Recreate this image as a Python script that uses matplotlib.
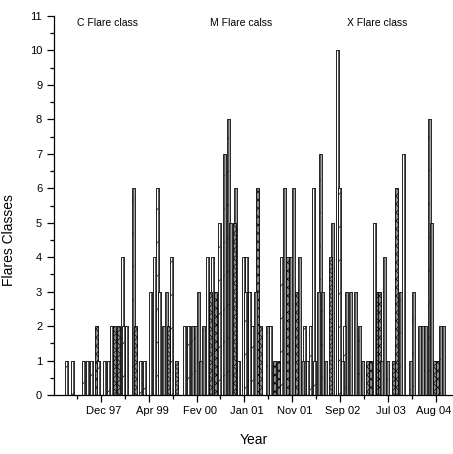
import matplotlib
matplotlib.use("Agg")
import matplotlib.pyplot as plt
from matplotlib.ticker import MultipleLocator, FixedLocator
from matplotlib.transforms import ScaledTranslation

plt.rcParams['font.family'] = ['Liberation Sans', 'DejaVu Sans']
plt.rcParams['hatch.linewidth'] = 0.5

# Event index (position along the x axis) and flare counts
hatched_pos = [3.3, 5.15, 8.5, 10.9, 13.0, 16.1, 20.6, 23.6, 25.8, 27.0, 30.9, 35.2,
               40.3, 41.5, 42.4, 44.8, 49.7, 51.2, 52.4, 57.6, 59.7, 64.2, 68.5,
               75.5, 77.3, 78.5, 80.3, 80.9, 86.1, 87.6, 92.1, 100.6, 104.5,
               107.6, 108.5, 113.3, 116.7]
hatched_val = [1, 1, 1, 1, 1, 1, 2, 6, 1, 1, 6, 4,
               2, 2, 2, 2, 5, 7, 8, 3, 2, 2, 4,
               2, 2, 1, 7, 3, 6, 2, 2, 1, 3,
               1, 3, 8, 2]

plain_pos = [9.7, 14.85, 17.0, 20.3, 21.5, 28.8, 30.0, 31.5, 32.7, 33.6, 39.1, 43.3,
             43.9, 46.1, 47.6, 53.0, 54.5, 55.5, 57.0, 57.9, 58.8, 60.6, 65.2,
             69.4, 71.2, 72.1, 73.9, 74.8, 76.4, 78.2, 79.7, 81.8, 83.9, 85.5,
             87.0, 88.2, 89.4, 90.9, 93.0, 96.7, 98.8, 99.7, 105.5, 110.3, 111.2,
             112.1, 113.9, 117.6]
plain_val = [1, 1, 2, 4, 2, 3, 4, 3, 2, 3, 2, 3,
             1, 4, 4, 5, 6, 1, 4, 4, 3, 3, 2,
             6, 4, 6, 4, 1, 1, 6, 3, 1, 5, 10,
             1, 3, 3, 3, 1, 5, 1, 4, 7, 2, 2,
             2, 5, 2]

cross_pos = [12.4, 17.9, 19.1, 24.2, 34.2, 36.7, 47.0, 48.5, 54.2, 61.2, 62.1, 66.4,
             67.6, 70.3, 73.0, 83.3, 94.5, 95.5, 97.6, 98.2, 102.4, 103.3, 114.8,
             115.8]
cross_val = [2, 2, 2, 2, 2, 1, 3, 3, 5, 6, 2, 1,
             1, 4, 3, 4, 1, 1, 3, 3, 1, 6, 1,
             1]

tick_pos = [14.2, 28.8, 43.3, 57.6, 72.1, 86.7, 101.2, 115.8]
tick_labels = ['Dec 97', 'Apr 99', 'Fev 00', 'Jan 01', 'Nov 01', 'Sep 02', 'Jul 03', 'Aug 04']
class_titles = ['C Flare class', 'M Flare calss', 'X Flare class']

fig = plt.figure(figsize=(4.53, 4.54), dpi=100)
ax = fig.add_axes([54/453, 59/454, 399/453, 379/454])

W = 1.0
lw = 0.6
items = [(p, v, 'h') for p, v in zip(hatched_pos, hatched_val)] + \
        [(p, v, 'p') for p, v in zip(plain_pos, plain_val)] + \
        [(p, v, 'x') for p, v in zip(cross_pos, cross_val)]
items.sort(key=lambda t: -t[1])
for p, v, s in items:
    if s == 'x':
        ax.bar(p, v, width=W, align='edge', facecolor='#8a8a8a', edgecolor='black',
               hatch='xxxx', linewidth=lw, zorder=2)
    else:
        ax.bar(p, v, width=W, align='edge', facecolor='white', edgecolor='black',
               hatch='/' if s == 'h' else None, linewidth=lw, zorder=2)
        ax.bar(p + 0.5 * W, v, width=0.5 * W, align='edge', facecolor='#a0a0a0',
               edgecolor='black', linewidth=0.4, zorder=2)

ax.set_xlim(0, 121)
ax.set_ylim(0, 11)
ax.spines['top'].set_visible(False)
ax.spines['right'].set_visible(False)
ax.spines['left'].set_linewidth(0.9)
ax.spines['bottom'].set_linewidth(0.9)

ax.yaxis.set_major_locator(MultipleLocator(1))
ax.yaxis.set_minor_locator(MultipleLocator(0.5))
ax.set_xticks(tick_pos)
ax.set_xticklabels(tick_labels)
minor = [tick_pos[0] - 7.2] + [(a + b) / 2 for a, b in zip(tick_pos[:-1], tick_pos[1:])]
ax.xaxis.set_minor_locator(FixedLocator(minor))
ax.tick_params(axis='both', which='major', direction='out', length=5, width=0.9, labelsize=8)
ax.tick_params(axis='both', which='minor', direction='out', length=3, width=0.9)
ax.tick_params(axis='x', which='major', pad=3)
labs = ax.get_xticklabels()
for i, lab in enumerate(labs):
    dx = 3 if i < len(labs) - 1 else -2
    lab.set_transform(lab.get_transform() + ScaledTranslation(dx/100, 0, fig.dpi_scale_trans))

ax.set_xlabel('Year', fontsize=10, labelpad=12)
ax.set_ylabel('Flares Classes', fontsize=10, labelpad=5)
ax.yaxis.set_label_coords(-0.095, 0.41)

for t, xf in zip(class_titles, [0.133, 0.47, 0.81]):
    ax.text(xf, 0.995, t, transform=ax.transAxes, ha='center', va='top', fontsize=7.5)

fig.savefig('out.png', dpi=100)
